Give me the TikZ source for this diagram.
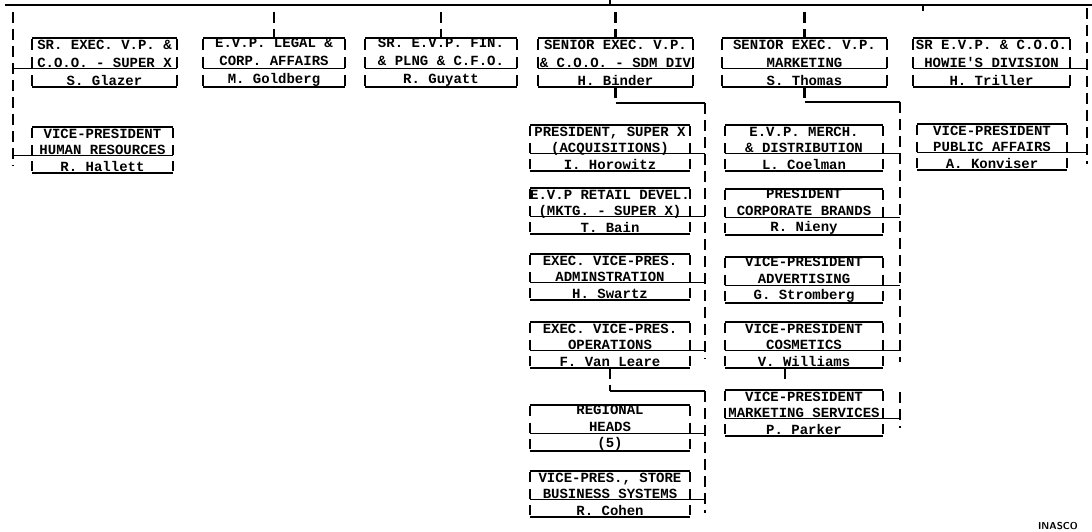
\documentclass[tikz,border=0pt]{standalone}
\usepackage{fontspec}
\usepackage{tikz}
\newfontfamily\typefont{Liberation Mono}
\usetikzlibrary{calc}

\tikzset{
	topbox/.style={minimum height=49pt, inner sep=0pt, align=center, font=\typefont\bfseries\fontsize{14}{18}\selectfont},
	subbox/.style={minimum height=45pt, inner sep=0pt, align=center, font=\typefont\bfseries\fontsize{14}{16.5}\selectfont},
	rule/.style={line width=1.8pt},
	topbar/.style={line width=2.2pt, dash pattern=on 11pt off 7pt, dash phase=17pt},
	subbar/.style={line width=2.2pt, dash pattern=on 10pt off 6.5pt, dash phase=15.5pt},
	link/.style={line width=2.2pt, dash pattern=on 11pt off 6pt}
}

\begin{document}
\begin{tikzpicture}[x=1pt,y=-1pt]
	\useasboundingbox (0,0) rectangle (1092,532);
	\node[topbox, minimum width=145pt] (glazer) at (104.5,62.5) {SR. EXEC. V.P. \&\\C.O.O. - SUPER X\\S. Glazer};
	\node[topbox, minimum width=142pt] (goldberg) at (274,62.5) {E.V.P. LEGAL \&\\CORP. AFFAIRS\\M. Goldberg};
	\node[topbox, minimum width=152pt] (guyatt) at (441,62.5) {SR. E.V.P. FIN.\\\& PLNG \& C.F.O.\\R. Guyatt};
	\node[topbox, minimum width=155pt] (binder) at (615.5,62.5) {SENIOR EXEC. V.P.\\\& C.O.O. - SDM DIV\\H. Binder};
	\node[topbox, minimum width=165pt] (thomas) at (804.5,62.5) {SENIOR EXEC. V.P.\\MARKETING\\S. Thomas};
	\node[topbox, minimum width=157pt] (triller) at (991.5,62.5) {SR E.V.P. \& C.O.O.\\HOWIE'S DIVISION\\H. Triller};
	\node[subbox, minimum width=141pt] (hallett) at (102.5,150) {VICE-PRESIDENT\\HUMAN RESOURCES\\R. Hallett};
	\node[subbox, minimum width=160pt] (horowitz) at (610,148) {PRESIDENT, SUPER X\\(ACQUISITIONS)\\I. Horowitz};
	\node[subbox, minimum width=160pt] (bain) at (610,211) {E.V.P RETAIL DEVEL.\\(MKTG. - SUPER X)\\T. Bain};
	\node[subbox, minimum width=160pt] (swartz) at (610,277) {EXEC. VICE-PRES.\\ADMINSTRATION\\H. Swartz};
	\node[subbox, minimum width=160pt] (vanleare) at (610,345) {EXEC. VICE-PRES.\\OPERATIONS\\F. Van Leare};
	\node[subbox, minimum width=160pt] (regional) at (610,428) {REGIONAL\\HEADS\\(5)};
	\node[subbox, minimum width=160pt] (cohen) at (610,494) {VICE-PRES., STORE\\BUSINESS SYSTEMS\\R. Cohen};
	\node[subbox, minimum width=158pt] (coelman) at (804,148) {E.V.P. MERCH.\\\& DISTRIBUTION\\L. Coelman};
	\node[subbox, minimum width=158pt] (nieny) at (804,212) {PRESIDENT\\CORPORATE BRANDS\\R. Nieny};
	\node[subbox, minimum width=158pt] (stromberg) at (804,280) {VICE-PRESIDENT\\ADVERTISING\\G. Stromberg};
	\node[subbox, minimum width=158pt] (williams) at (804,345) {VICE-PRESIDENT\\COSMETICS\\V. Williams};
	\node[subbox, minimum width=158pt] (parker) at (804,413) {VICE-PRESIDENT\\MARKETING SERVICES\\P. Parker};
	\node[subbox, minimum width=150pt] (konviser) at (992,147) {VICE-PRESIDENT\\PUBLIC AFFAIRS\\A. Konviser};
	\node[anchor=base, font=\sffamily\bfseries\fontsize{10}{12}\selectfont] (inasco) at (1058,529.5) {INASCO};

	\foreach \n in {glazer,goldberg,guyatt,binder,thomas,triller,hallett,horowitz,bain,swartz,vanleare,regional,cohen,coelman,nieny,stromberg,williams,parker,konviser} {
		\coordinate (\n-l) at ($(\n.north west)!0.62!(\n.south west)$);
		\coordinate (\n-r) at ($(\n.north east)!0.62!(\n.south east)$);
		\draw[rule] (\n.north west) -- (\n.north east);
		\draw[rule] (\n-l) -- (\n-r);
		\draw[rule] (\n.south west) -- (\n.south east);
	}
	\foreach \n in {glazer,goldberg,guyatt,binder,thomas,triller} {
		\draw[topbar] (\n.north west) -- (\n.south west);
		\draw[topbar] (\n.north east) -- (\n.south east);
	}
	\foreach \n in {hallett,horowitz,bain,swartz,vanleare,regional,cohen,coelman,nieny,stromberg,williams,parker,konviser} {
		\draw[subbar] (\n.north west) -- (\n.south west);
		\draw[subbar] (\n.north east) -- (\n.south east);
	}

	\coordinate (topW) at (5,5);
	\coordinate (topE) at (1092,5);
	\coordinate (ceo) at (610,0);
	\coordinate (trillerstub) at (923,11);
	\coordinate (leftline) at (13,12);
	\coordinate (rightline) at (1087,8);
	\coordinate (binderline) at (705,103);
	\coordinate (opsline) at (705,391);
	\coordinate (mktline) at (900,102);
	\coordinate (svcline) at (900,392);

	\draw[rule] (topW) -- (topE);
	\draw[rule] (ceo) -- (ceo |- topW);
	\draw[rule] (trillerstub) -- (trillerstub |- topW);
	\foreach \n in {goldberg,guyatt,binder,thomas}
		\draw[link] ([yshift=-7pt]\n.north |- topW) -- (\n.north);

	\draw[link] (leftline) -- ([yshift=-10pt]leftline |- hallett-l);
	\draw[rule] (glazer-l) -- (glazer-l -| leftline);
	\draw[rule] (hallett-l) -- (hallett-l -| leftline);

	\draw[link] (rightline) -- ([yshift=-12pt]rightline |- konviser-r);
	\draw[rule] (triller-r) -- (triller-r -| rightline);
	\draw[rule] (konviser-r) -- (konviser-r -| rightline);

	\draw[link] (binder.south) -- (binder.south |- binderline);
	\draw[rule] (binder.south |- binderline) -- (binderline);
	\draw[link] (binderline) -- ([yshift=-8pt]binderline |- vanleare-r);
	\foreach \n in {horowitz,bain,swartz,vanleare}
		\draw[rule] (\n-r) -- (\n-r -| binderline);

	\draw[link] (vanleare.south) -- (vanleare.south |- opsline);
	\draw[rule] (vanleare.south |- opsline) -- (opsline);
	\draw[link] (opsline) -- ([yshift=-14pt]opsline |- cohen-r);
	\foreach \n in {regional,cohen}
		\draw[rule] (\n-r) -- (\n-r -| opsline);

	\draw[link] (thomas.south) -- (thomas.south |- mktline);
	\draw[rule] (thomas.south |- mktline) -- (mktline);
	\draw[link] (mktline) -- ([yshift=-12pt]mktline |- williams-r);
	\foreach \n in {coelman,nieny,stromberg,williams}
		\draw[rule] (\n-r) -- (\n-r -| mktline);

	\draw[link] ([xshift=-19pt]williams.south) -- ++(0,14);
	\draw[link] (svcline) -- ([yshift=-10pt]svcline |- parker-r);
	\draw[rule] (parker-r) -- (parker-r -| svcline);
\end{tikzpicture}
\end{document}
